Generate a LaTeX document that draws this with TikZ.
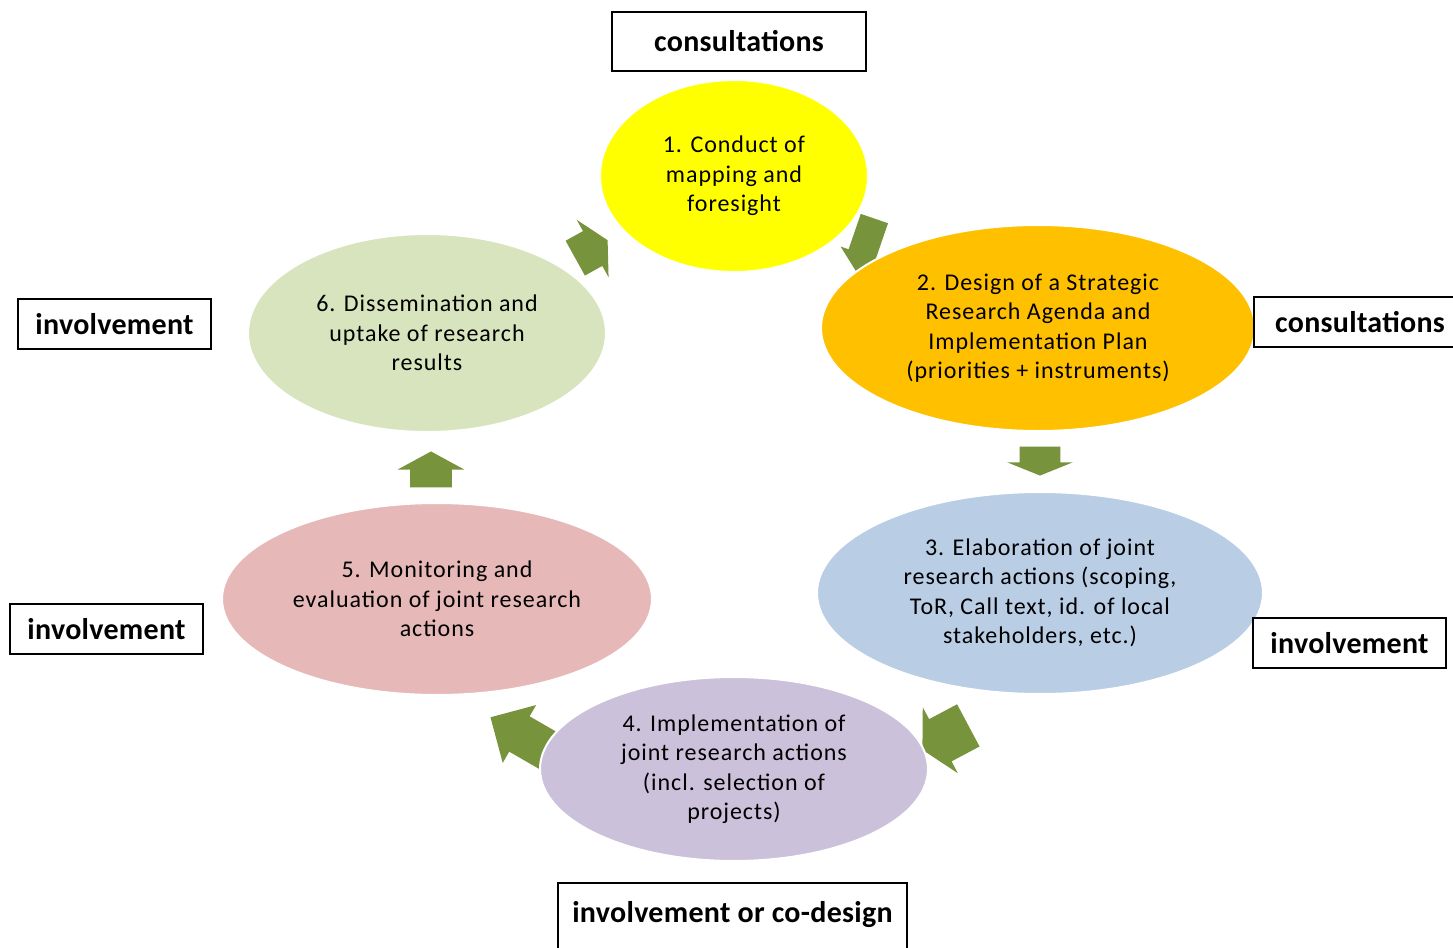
\documentclass[tikz,border=0pt]{standalone}
\usepackage{fontspec}
\setmainfont{Carlito}[LetterSpace=4]
\newfontfamily\tagfont{Carlito}[LetterSpace=1]
\usetikzlibrary{shapes.geometric,shapes.arrows}

\definecolor{stageyellow}{HTML}{FFFF00}
\definecolor{stageorange}{HTML}{FFC000}
\definecolor{stageblue}{HTML}{B9CDE5}
\definecolor{stagepurple}{HTML}{CCC1DA}
\definecolor{stagepink}{HTML}{E6B9B8}
\definecolor{stagegreen}{HTML}{D7E4BD}
\definecolor{flowgreen}{HTML}{77933C}

\begin{document}
\begin{tikzpicture}[x=0.5pt, y=-0.5pt,
  stage/.style={ellipse, draw=white, line width=1pt, align=center, inner sep=0pt, font=\fontsize{12}{14.75}\selectfont},
  tag/.style={draw, line width=1pt, minimum width=96.5pt, minimum height=25pt, inner sep=0pt, font=\tagfont\fontsize{15}{17}\selectfont\bfseries},
  flow/.style={single arrow, fill=flowgreen, anchor=tip, inner xsep=0pt, inner ysep=10pt, single arrow head extend=6.25pt, single arrow tip angle=125}]

  \useasboundingbox (0,0) rectangle (1453,948);
  \clip (0,0) rectangle (1453,948);

  % Block arrows (under the stages), placed by their tips
  \node[flow, minimum height=14.5pt, single arrow tip angle=136, rotate=-90] (f23) at (1040,476) {};
  \node[flow, minimum height=18pt, inner ysep=10.25pt, single arrow tip angle=123, rotate=90] (f56) at (431,451) {};
  \node[flow, minimum height=18.5pt, inner ysep=9.75pt, single arrow head extend=6.5pt, rotate=29] (f61) at (608,240) {};
  \node[flow, minimum height=26pt, inner ysep=11.75pt, single arrow head extend=6.75pt, single arrow tip angle=123, rotate=208] (f34) at (922,750) {};
  \node[flow, minimum height=37pt, single arrow head extend=6.5pt, single arrow tip angle=90, rotate=150] (f45) at (490,717) {};
  \node[flow, minimum height=28pt, inner ysep=7pt, single arrow head extend=4.25pt, single arrow tip angle=102, rotate=-109] (f12) at (856,272) {};

  % Stages
  \node[stage, fill=stageyellow, minimum width=134pt, minimum height=96pt] (s1) at (734,176) {1. Conduct of\\mapping and\\foresight};
  \node[stage, fill=stageorange, minimum width=217pt, minimum height=103pt] (s2) at (1038,328) {2. Design of a Strategic\\Research Agenda and\\Implementation Plan\\(priorities + instruments)};
  \node[stage, fill=stageblue, minimum width=223pt, minimum height=101pt] (s3) at (1040,593) {3. Elaboration of joint\\research actions (scoping,\\ToR, Call text, id. of local\\stakeholders, etc.)};
  \node[stage, fill=stagepink, minimum width=215pt, minimum height=96pt] (s5) at (437,599) {5. Monitoring and\\evaluation of joint research\\actions};
  \node[stage, fill=stagegreen, minimum width=179pt, minimum height=99pt] (s6) at (427,333) {6. Dissemination and\\uptake of research\\results};
  \node[stage, fill=stagepurple, minimum width=194pt, minimum height=92pt] (s4) at (734,769) {4. Implementation of\\joint research actions\\(incl. selection of\\projects)};

  % Labels
  \node[tag, minimum width=127pt, minimum height=29.5pt] (t1) at (739,41.5) {consultations};
  \node[tag, minimum width=106pt] (t2) at (1360,322) {consultations};
  \node[tag] (t3) at (1349.5,643) {involvement};
  \node[tag, minimum width=174.5pt, text height=19.5pt, text depth=19pt, anchor=base] (t4) at (732.5,922) {involvement or co-design};
  \node[tag] (t5) at (106.5,629) {involvement};
  \node[tag] (t6) at (114.5,324) {involvement};

\end{tikzpicture}
\end{document}
